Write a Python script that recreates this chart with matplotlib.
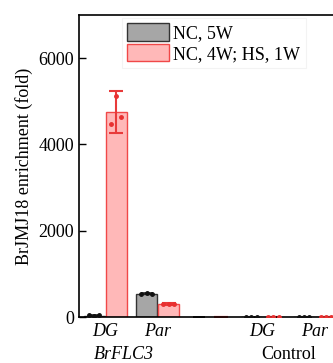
import matplotlib
matplotlib.use("Agg")
import matplotlib.pyplot as plt
import numpy as np

plt.rcParams['font.family'] = ['Liberation Serif', 'DejaVu Serif']

sites = ["DG", "Par", "", "DG", "Par"]
groups = ["BrFLC3", "Control"]
series = ["NC, 5W", "NC, 4W; HS, 1W"]

nc5w_reps = [[35, 30, 38], [540, 545, 535], [0, 0, 0], [3, 4, 3], [3, 2, 4]]
hs_reps = [[4483, 5121, 4645], [300, 305, 295], [0, 0, 0], [3, 2, 3], [3, 3, 2]]
nc5w_err = [5, 10, 0, 1, 1]
hs_err = [490, 15, 0, 1, 1]

ylim_max = 7000
yticks = [0, 2000, 4000, 6000]

fig = plt.figure(figsize=(3.33, 3.63), dpi=100)
ax = fig.add_axes([79/333, 46/363, 262/333, 302/363])

x = np.arange(len(sites))
off = 0.21
w = 0.40
gray_face, gray_edge = '#a6a6a6', '#333333'
red_face, red_edge = '#ffb8b8', '#f04848'
has_bar = [s != "" for s in sites]

m1 = np.array([np.mean(r) for r in nc5w_reps])
m2 = np.array([np.mean(r) for r in hs_reps])
xb = x[has_bar]
ax.bar(xb - off, m1[has_bar], w, color=gray_face, edgecolor=gray_edge, lw=1.0, label=series[0])
ax.bar(xb + off, m2[has_bar], w, color=red_face, edgecolor=red_edge, lw=1.0, label=series[1])

ax.errorbar(x - off, m1, yerr=nc5w_err, fmt='none', ecolor='#222222', elinewidth=1.2, capsize=4, capthick=1.2)
ax.errorbar(x + off, m2, yerr=hs_err, fmt='none', ecolor='#e83a3a', elinewidth=1.5, capsize=5, capthick=1.5)

jit = [-0.1, 0.0, 0.1]
for i in range(len(sites)):
    if not has_bar[i]:
        continue
    ax.plot(np.array(jit) + x[i] - off, nc5w_reps[i], 'o', ms=2.5, color='#111111', zorder=5)
    ax.plot(np.array(jit) + x[i] + off, hs_reps[i], 'o', ms=2.5, color='#e83030', zorder=5)

ax.set_xlim(-0.5, len(sites) - 0.5)
ax.set_ylim(0, ylim_max)
ax.set_yticks(yticks)
ax.tick_params(axis='y', direction='in', length=5, width=1, labelsize=13)
ax.set_xticks(x)
ax.set_xticklabels(sites, fontsize=13, style='italic')
ax.tick_params(axis='x', length=0, pad=4)
for s in ax.spines.values():
    s.set_linewidth(1.2)

ax.set_ylabel("BrJMJ18 enrichment (fold)", fontsize=13, labelpad=4)

trans = matplotlib.transforms.blended_transform_factory(ax.transData, ax.transAxes)
ax.text(0.5 - 0.15, -0.097, groups[0], transform=trans, ha='center', va='top', fontsize=13, style='italic')
ax.text(3.5, -0.097, groups[1], transform=trans, ha='center', va='top', fontsize=13)

leg = ax.legend(loc='upper left', bbox_to_anchor=(0.163, 0.99), fontsize=13, frameon=True,
                handlelength=2.3, handleheight=1.1, labelspacing=0.1, handletextpad=0.25,
                borderpad=0.3, fancybox=False, borderaxespad=0)
leg.get_frame().set_edgecolor('#f0f0f0')
leg.get_frame().set_linewidth(0.8)

fig.savefig("out.png", dpi=100)
